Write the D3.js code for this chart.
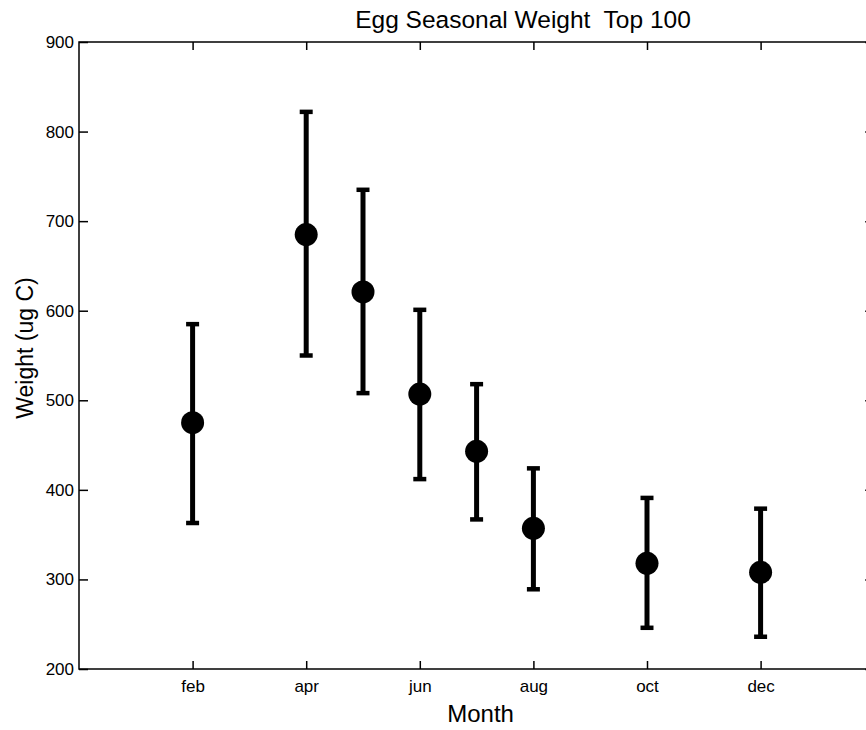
<!DOCTYPE html>
<html>
<head>
<meta charset="utf-8">
<script src="https://cdn.jsdelivr.net/npm/d3@7"></script>
<style>
  html, body { margin: 0; padding: 0; background: #fff; overflow: hidden; }
  svg { display: block; font-family: "Liberation Sans", Arial, Helvetica, sans-serif; }
</style>
</head>
<body>
<svg id="chart" width="866" height="730"></svg>
<script>
// ---- data ----
const months = ["feb", "apr", "may", "jun", "jul", "aug", "oct", "dec"];
const monthNum = [2, 4, 5, 6, 7, 8, 10, 12];
const meanWeight = [475, 685, 621, 507, 443, 357, 318, 308];
const lowerWeight = [363, 550, 508, 412, 367, 289, 246, 236];
const upperWeight = [585, 822, 735, 601, 518, 424, 391, 379];
const xTickValues = [2, 4, 6, 8, 10, 12];
const xTickLabels = ["feb", "apr", "jun", "aug", "oct", "dec"];
const yTickValues = [200, 300, 400, 500, 600, 700, 800, 900];
const titleText = "Egg Seasonal Weight  Top 100";
const xLabelText = "Month";
const yLabelText = "Weight (ug C)";

// ---- layout ----
const pLeft = 79, pTop = 42, pBottom = 669;
const pRight = 79 + 14 * 56.8;

const svg = d3.select("#chart");
const x = d3.scaleLinear().domain([0, 14]).range([pLeft, pRight]);
const y = d3.scaleLinear().domain([200, 900]).range([pBottom, pTop]);

const rows = months.map((m, i) => ({
  m, x: monthNum[i], mean: meanWeight[i], lo: lowerWeight[i], hi: upperWeight[i]
}));

// axes box
svg.append("rect")
  .attr("x", pLeft).attr("y", pTop)
  .attr("width", pRight - pLeft).attr("height", pBottom - pTop)
  .attr("fill", "none").attr("stroke", "#000").attr("stroke-width", 1.5);

const tickLabel = d => xTickLabels[xTickValues.indexOf(d)];

// bottom axis (ticks inward)
const xAxisB = d3.axisBottom(x).tickValues(xTickValues).tickFormat(tickLabel)
  .tickSizeInner(-8).tickSizeOuter(0).tickPadding(11);
const gxb = svg.append("g").attr("transform", `translate(0,${pBottom})`).call(xAxisB);
gxb.select(".domain").remove();
gxb.selectAll("line").attr("stroke", "#000").attr("stroke-width", 1.5);
gxb.selectAll("text").attr("font-size", 17).attr("fill", "#000")
  .attr("font-family", "'Liberation Sans', Arial, sans-serif");

// top axis (ticks inward, no labels)
const xAxisT = d3.axisTop(x).tickValues(xTickValues).tickFormat("")
  .tickSizeInner(-8).tickSizeOuter(0);
const gxt = svg.append("g").attr("transform", `translate(0,${pTop})`).call(xAxisT);
gxt.select(".domain").remove();
gxt.selectAll("line").attr("stroke", "#000").attr("stroke-width", 1.5);

// left axis
const yAxisL = d3.axisLeft(y).tickValues(yTickValues).tickFormat(d3.format("d"))
  .tickSizeInner(-9).tickSizeOuter(0).tickPadding(5);
const gyl = svg.append("g").attr("transform", `translate(${pLeft},0)`).call(yAxisL);
gyl.select(".domain").remove();
gyl.selectAll("line").attr("stroke", "#000").attr("stroke-width", 1.5);
gyl.selectAll("text").attr("font-size", 17).attr("fill", "#000")
  .attr("font-family", "'Liberation Sans', Arial, sans-serif");

// right axis (ticks inward, no labels)
const yAxisR = d3.axisRight(y).tickValues(yTickValues).tickFormat("")
  .tickSizeInner(-9).tickSizeOuter(0);
const gyr = svg.append("g").attr("transform", `translate(${pRight},0)`).call(yAxisR);
gyr.select(".domain").remove();
gyr.selectAll("line").attr("stroke", "#000").attr("stroke-width", 1.5);

// error bars
const eb = svg.append("g");
eb.selectAll("line.stem").data(rows).join("line").attr("class", "stem")
  .attr("x1", d => x(d.x)).attr("x2", d => x(d.x))
  .attr("y1", d => y(d.lo)).attr("y2", d => y(d.hi))
  .attr("stroke", "#000").attr("stroke-width", 5);
const capW = 6.5;
eb.selectAll("line.capHi").data(rows).join("line").attr("class", "capHi")
  .attr("x1", d => x(d.x) - capW).attr("x2", d => x(d.x) + capW)
  .attr("y1", d => y(d.hi)).attr("y2", d => y(d.hi))
  .attr("stroke", "#000").attr("stroke-width", 4.5);
eb.selectAll("line.capLo").data(rows).join("line").attr("class", "capLo")
  .attr("x1", d => x(d.x) - capW).attr("x2", d => x(d.x) + capW)
  .attr("y1", d => y(d.lo)).attr("y2", d => y(d.lo))
  .attr("stroke", "#000").attr("stroke-width", 4.5);
eb.selectAll("circle").data(rows).join("circle")
  .attr("cx", d => x(d.x)).attr("cy", d => y(d.mean)).attr("r", 11.5)
  .attr("fill", "#000");

// title & labels
svg.append("text").attr("x", 523).attr("y", 28).attr("text-anchor", "middle")
  .attr("font-size", 24.5).attr("fill", "#000").style("white-space", "pre")
  .text(titleText);
svg.append("text").attr("x", (pLeft + pRight) / 2 + 4).attr("y", 722).attr("text-anchor", "middle")
  .attr("font-size", 24).attr("fill", "#000").text(xLabelText);
svg.append("text").attr("transform", `translate(33,348) rotate(-90)`)
  .attr("text-anchor", "middle")
  .attr("font-size", 23).attr("fill", "#000").text(yLabelText);
</script>
</body>
</html>
